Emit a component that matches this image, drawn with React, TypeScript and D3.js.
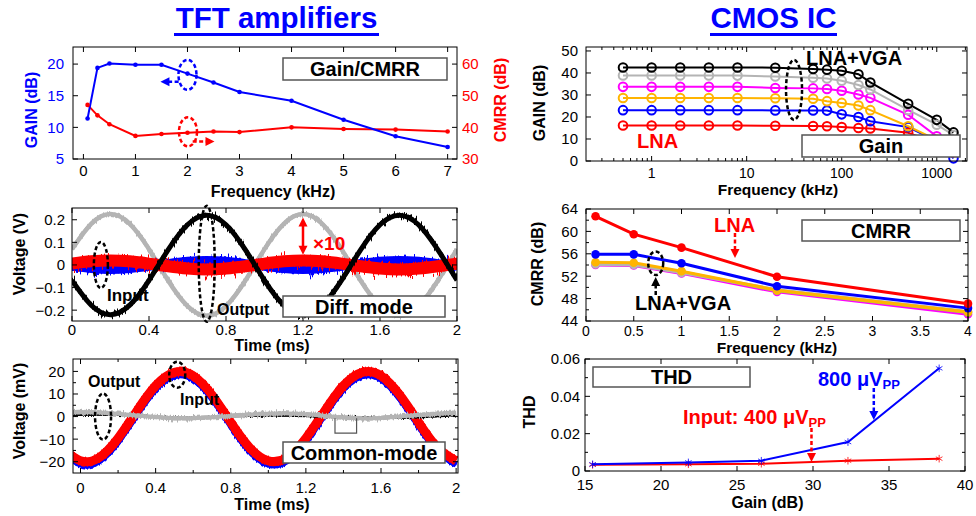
import React from 'react';
import * as d3 from 'd3';

const W = 976;
const H = 516;
const FONT = '"Liberation Sans", Arial, Helvetica, sans-serif';
const BLUE = '#0000ff';
const RED = '#ff0000';
const MAGENTA = '#ff00ff';
const ORANGE = '#ffb400';
const GRAY = '#b4b4b4';
const GREEN = '#a8d040';

// ---- TFT amplifier: gain and CMRR vs frequency ----
const tftFreq = [0.08, 0.27, 0.5, 1, 1.5, 2, 2.5, 3, 4, 5, 6, 7];
const tftGain = [11.4, 19.4, 20.1, 19.9, 19.9, 18.5, 17.1, 15.6, 14.2, 11.2, 8.6, 6.9];
const tftCmrr = [47.1, 43.8, 41.0, 37.3, 37.9, 38.3, 38.7, 38.5, 40.0, 39.5, 39.3, 38.7];

// ---- TFT: differential mode waveforms (V) ----
const diffTime = [0, 0.1, 0.2, 0.3, 0.4, 0.5, 0.6, 0.7, 0.8, 0.9, 1, 1.1, 1.2, 1.3, 1.4, 1.5, 1.6, 1.7, 1.8, 1.9, 2];
const diffOutP = [-0.068, -0.178, -0.22, -0.178, -0.068, 0.068, 0.178, 0.22, 0.178, 0.068, -0.068, -0.178, -0.22, -0.178, -0.068, 0.068, 0.178, 0.22, 0.178, 0.068, -0.068];
const diffOutN = [0.07, 0.182, 0.225, 0.182, 0.07, -0.07, -0.182, -0.225, -0.182, -0.07, 0.07, 0.182, 0.225, 0.182, 0.07, -0.07, -0.182, -0.225, -0.182, -0.07, 0.07];
const diffInP = [-0.006, -0.016, -0.02, -0.016, -0.006, 0.006, 0.016, 0.02, 0.016, 0.006, -0.006, -0.016, -0.02, -0.016, -0.006, 0.006, 0.016, 0.02, 0.016, 0.006, -0.006];
const diffInN = [0.006, 0.016, 0.02, 0.016, 0.006, -0.006, -0.016, -0.02, -0.016, -0.006, 0.006, 0.016, 0.02, 0.016, 0.006, -0.006, -0.016, -0.02, -0.016, -0.006, 0.006];

// ---- TFT: common mode waveforms (mV) ----
const cmTime = [-0.1, 0, 0.1, 0.2, 0.3, 0.4, 0.5, 0.6, 0.7, 0.8, 0.9, 1, 1.1, 1.2, 1.3, 1.4, 1.5, 1.6, 1.7, 1.8, 1.9, 2];
const cmInA = [-13.7, -19.6, -18.1, -9.6, 2.5, 13.7, 19.6, 18.1, 9.6, -2.5, -13.7, -19.6, -18.1, -9.6, 2.5, 13.7, 19.6, 18.1, 9.6, -2.5, -13.7, -19.6];
const cmInB = [-15.4, -21.3, -19.8, -11.3, 0.8, 12, 17.9, 16.4, 7.9, -4.2, -15.4, -21.3, -19.8, -11.3, 0.8, 12, 17.9, 16.4, 7.9, -4.2, -15.4, -21.3];
const cmOutA = [1.9, 2.0, 1.8, 1.2, 0.5, -0.2, -0.7, -0.7, -0.3, 0.3, 0.9, 1.3, 1.4, 1.0, 0.3, -0.4, -0.8, -0.6, 0.0, 0.7, 1.3, 1.7];
const cmOutB = [0.5, 0.6, 0.7, 0.6, 0.3, 0.0, -0.3, -0.4, -0.3, 0.0, 0.2, 0.3, 0.3, 0.1, -0.1, 0.0, -0.2, -0.5, -0.7, -0.5, 0.0, 0.4];

// ---- CMOS IC: gain vs frequency (kHz) ----
const cmosFreq = [0.5, 1, 2, 4, 8, 20, 50, 70, 100, 150, 200, 500, 1000, 1500];
const gainLna = [16.1, 16.1, 16.1, 16.1, 16.1, 16.0, 15.9, 15.8, 15.4, 15.0, 14.8, 12.8, 8.0, 4.0];
const gainBlue = [23.1, 23.1, 23.1, 23.1, 23.1, 23.0, 23.0, 22.9, 21.2, 20.0, 18.1, 15.4, 9.0, 1.2];
const gainOrange = [28.6, 28.6, 28.6, 28.6, 28.6, 28.5, 28.3, 27.2, 26.4, 25.2, 23.1, 15.8, 9.6, 5.0];
const gainMagenta = [33.7, 33.7, 33.7, 33.7, 33.7, 33.2, 33.0, 32.7, 31.9, 30.2, 28.7, 21.0, 11.2, 7.0];
const gainGray = [38.9, 38.9, 38.9, 38.9, 38.8, 38.4, 37.8, 37.5, 36.5, 34.5, 32.5, 23.2, 16.5, 11.8];
const gainBlack = [42.5, 42.5, 42.5, 42.5, 42.5, 42.4, 41.8, 41.5, 41.0, 39.4, 35.7, 26.0, 18.7, 13.0];

// ---- CMOS IC: CMRR vs frequency (kHz) ----
const cmrrFreq = [0.1, 0.5, 1, 2, 4];
const cmrrLna = [62.7, 59.5, 57.1, 51.9, 47.1];
const cmrrBlue = [55.9, 55.9, 54.3, 50.2, 46.3];
const cmrrOrange = [54.5, 54.4, 52.9, 49.5, 45.6];
const cmrrGreen = [54.3, 54.2, 52.8, 49.4, 45.5];
const cmrrGray = [54.1, 54.0, 52.6, 49.6, 45.7];
const cmrrMagenta = [54.0, 53.9, 52.5, 49.2, 45.2];

// ---- CMOS IC: THD vs gain ----
const thdGain = [15.5, 21.8, 26.6, 32.3, 38.3];
const thd400 = [0.0033, 0.0036, 0.0039, 0.0055, 0.0066];
const thd800 = [0.0036, 0.0046, 0.0055, 0.0155, 0.055];

type Box = { l: number; r: number; t: number; b: number };
const P1: Box = { l: 73, r: 457, t: 47, b: 159 };
const P2: Box = { l: 72, r: 457, t: 208, b: 321 };
const P3: Box = { l: 73, r: 458, t: 359, b: 473 };
const P4: Box = { l: 586, r: 967, t: 47, b: 161 };
const P5: Box = { l: 586, r: 968, t: 209, b: 321 };
const P6: Box = { l: 585, r: 965, t: 359, b: 471 };

const minus = (v: number) => (v < 0 ? '\u2212' : '') + String(Math.abs(v));

function Axes(props: any) {
  const { box, x, y, xt, yt, xm = [], ym = [], xf = String, yf = String, xdy, ydx = 8, mirrorY = true, yColor = '#000', fs = 15, xfs } = props;
  const L = 5, m = 3;
  return (
    <g>
      <rect x={box.l} y={box.t} width={box.r - box.l} height={box.b - box.t} fill="none" stroke="#000" strokeWidth={1} />
      {xm.map((v: number, i: number) => (
        <g key={'xm' + i}>
          <line x1={x(v)} x2={x(v)} y1={box.b} y2={box.b - m} stroke="#000" />
          <line x1={x(v)} x2={x(v)} y1={box.t} y2={box.t + m} stroke="#000" />
        </g>
      ))}
      {ym.map((v: number, i: number) => (
        <g key={'ym' + i}>
          <line x1={box.l} x2={box.l + m} y1={y(v)} y2={y(v)} stroke="#000" />
          {mirrorY && <line x1={box.r} x2={box.r - m} y1={y(v)} y2={y(v)} stroke="#000" />}
        </g>
      ))}
      {xt.map((v: number, i: number) => (
        <g key={'xt' + i}>
          <line x1={x(v)} x2={x(v)} y1={box.b} y2={box.b - L} stroke="#000" />
          <line x1={x(v)} x2={x(v)} y1={box.t} y2={box.t + L} stroke="#000" />
          <text x={x(v)} y={box.b + xdy} textAnchor="middle" fontSize={xfs || fs}>{xf(v)}</text>
        </g>
      ))}
      {yt.map((v: number, i: number) => (
        <g key={'yt' + i}>
          <line x1={box.l} x2={box.l + L} y1={y(v)} y2={y(v)} stroke="#000" />
          {mirrorY && <line x1={box.r} x2={box.r - L} y1={y(v)} y2={y(v)} stroke="#000" />}
          <text x={box.l - ydx} y={y(v)} dy="0.36em" textAnchor="end" fontSize={fs} fill={yColor}>{yf(v)}</text>
        </g>
      ))}
    </g>
  );
}

function YTitle({ x, y, text, color = '#000' }: any) {
  return (
    <text transform={`translate(${x},${y}) rotate(-90)`} textAnchor="middle" fontSize={16} fontWeight="bold" fill={color}>{text}</text>
  );
}

function XTitle({ x, y, text, fs = 16 }: any) {
  return <text x={x} y={y} textAnchor="middle" fontSize={fs} fontWeight="bold">{text}</text>;
}

function TagBox({ l, t, r, b, text }: any) {
  return (
    <g>
      <rect x={l} y={t} width={r - l} height={b - t} fill="#fff" stroke="#555" strokeWidth={1.5} />
      <text x={(l + r) / 2} y={(t + b) / 2} dy="0.36em" textAnchor="middle" fontSize={20} fontWeight="bold">{text}</text>
    </g>
  );
}

function Ring({ cx, cy, rx, ry, color = '#000' }: any) {
  return <ellipse cx={cx} cy={cy} rx={rx} ry={ry} fill="none" stroke={color} strokeWidth={2.5} strokeDasharray="4 2.5" />;
}

function Arrow({ x1, y1, x2, y2, color, dashed = false, both = false }: any) {
  const a = Math.atan2(y2 - y1, x2 - x1);
  const hl = 9, hw = 4.5;
  const head = (x: number, y: number, ang: number) => {
    const bx = x - hl * Math.cos(ang), by = y - hl * Math.sin(ang);
    const px = -Math.sin(ang) * hw, py = Math.cos(ang) * hw;
    return `M${x},${y}L${bx + px},${by + py}L${bx - px},${by - py}Z`;
  };
  const sx = both ? x1 + hl * 0.8 * Math.cos(a) : x1;
  const sy = both ? y1 + hl * 0.8 * Math.sin(a) : y1;
  return (
    <g>
      <line x1={sx} y1={sy} x2={x2 - hl * 0.8 * Math.cos(a)} y2={y2 - hl * 0.8 * Math.sin(a)} stroke={color} strokeWidth={2.5} strokeDasharray={dashed ? '4 2.5' : undefined} />
      <path d={head(x2, y2, a)} fill={color} />
      {both && <path d={head(x1, y1, a + Math.PI)} fill={color} />}
    </g>
  );
}

function Jitter({ id, scale, fx = 0.9, seed = 1 }: any) {
  return (
    <filter id={id} filterUnits="userSpaceOnUse" x={0} y={0} width={W} height={H} colorInterpolationFilters="sRGB">
      <feTurbulence type="fractalNoise" baseFrequency={`${fx} 0.02`} numOctaves={2} seed={seed} result="n" />
      <feColorMatrix in="n" type="matrix" values="0 0 0 0 0.5  0 1 0 0 0  0 0 0 0 0  0 0 0 0 1" result="m" />
      <feDisplacementMap in="SourceGraphic" in2="m" scale={scale} xChannelSelector="R" yChannelSelector="G" />
    </filter>
  );
}

function Clip({ id, box }: any) {
  return (
    <clipPath id={id}>
      <rect x={box.l} y={box.t} width={box.r - box.l} height={box.b - box.t} />
    </clipPath>
  );
}

const lineOf = (xs: number[], ys: number[], sx: any, sy: any, curve: any = d3.curveLinear) =>
  d3.line<number>().x((_, i) => sx(xs[i])).y(d => sy(d)).curve(curve)(ys) || '';

// noisy trace: solid core + jittered copies
function Noisy({ d, color, w, core, filter, filter2 }: any) {
  return (
    <g>
      <path d={d} fill="none" stroke={color} strokeWidth={core} />
      <path d={d} fill="none" stroke={color} strokeWidth={w} filter={`url(#${filter})`} />
      {filter2 && <path d={d} fill="none" stroke={color} strokeWidth={w} filter={`url(#${filter2})`} />}
    </g>
  );
}

export default function App() {
  // scales
  const x1 = d3.scaleLinear().domain([-0.2, 7.18]).range([P1.l, P1.r]);
  const yG1 = d3.scaleLinear().domain([5, 22.7]).range([P1.b, P1.t]);
  const yC1 = d3.scaleLinear().domain([30, 65.4]).range([P1.b, P1.t]);

  const x2 = d3.scaleLinear().domain([0, 2]).range([P2.l, P2.r]);
  const y2 = d3.scaleLinear().domain([-0.248, 0.252]).range([P2.b, P2.t]);

  const x3 = d3.scaleLinear().domain([-0.04, 2.01]).range([P3.l, P3.r]);
  const y3 = d3.scaleLinear().domain([-25, 25.5]).range([P3.b, P3.t]);

  const x4 = d3.scaleLog().domain([0.204, 2080]).range([P4.l, P4.r]);
  const y4 = d3.scaleLinear().domain([0, 51.8]).range([P4.b, P4.t]);

  const x5 = d3.scaleLinear().domain([0, 4]).range([P5.l, P5.r]);
  const y5 = d3.scaleLinear().domain([44, 64]).range([P5.b, P5.t]);

  const x6 = d3.scaleLinear().domain([15, 40]).range([P6.l, P6.r]);
  const y6 = d3.scaleLinear().domain([0, 0.06]).range([P6.b, P6.t]);

  const smooth = d3.curveNatural;

  const gainSeries = [
    { v: gainLna, c: RED },
    { v: gainBlue, c: BLUE },
    { v: gainOrange, c: ORANGE },
    { v: gainMagenta, c: MAGENTA },
    { v: gainGray, c: GRAY },
    { v: gainBlack, c: '#000' },
  ];
  const cmrrSeries = [
    { v: cmrrMagenta, c: MAGENTA },
    { v: cmrrGreen, c: GREEN },
    { v: cmrrGray, c: GRAY },
    { v: cmrrOrange, c: ORANGE },
    { v: cmrrBlue, c: BLUE },
    { v: cmrrLna, c: RED },
  ];

  const logMinor = x4.ticks().filter(v => ![1, 10, 100, 1000].includes(v));
  const star = d3.symbol().type(d3.symbolAsterisk).size(40)() || '';

  return (
    <svg width={W} height={H} viewBox={`0 0 ${W} ${H}`} style={{ position: 'fixed', left: 0, top: 0, fontFamily: FONT, background: '#fff' }}>
      <defs>
        <Clip id="c1" box={P1} />
        <Clip id="c2" box={P2} />
        <Clip id="c3" box={P3} />
        <Clip id="c4" box={P4} />
        <Jitter id="jRed" scale={32} seed={3} fx={0.7} />
        <Jitter id="jRed2" scale={24} seed={17} fx={0.5} />
        <Jitter id="jBlue" scale={24} seed={7} fx={0.7} />
        <Jitter id="jBlue2" scale={18} seed={21} fx={0.5} />
        <Jitter id="jBlack" scale={14} seed={11} />
        <Jitter id="jGray" scale={7} seed={5} />
        <Jitter id="jCm" scale={7} seed={9} />
        <Jitter id="jThin" scale={3} seed={13} />
      </defs>
      <rect width={W} height={H} fill="#fff" />

      {/* titles */}
      <text x={276.5} y={28} textAnchor="middle" fontSize={29.5} fontWeight="bold" fill={BLUE}>TFT amplifiers</text>
      <line x1={174} x2={379} y1={34.5} y2={34.5} stroke={BLUE} strokeWidth={3} />
      <text x={773.5} y={28} textAnchor="middle" fontSize={29.5} fontWeight="bold" fill={BLUE}>CMOS IC</text>
      <line x1={710} x2={837} y1={34.5} y2={34.5} stroke={BLUE} strokeWidth={3} />

      {/* ---------- panel 1: TFT gain / CMRR ---------- */}
      <g clipPath="url(#c1)">
        <path d={lineOf(tftFreq, tftCmrr, x1, yC1)} fill="none" stroke={RED} strokeWidth={2} />
        <path d={lineOf(tftFreq, tftGain, x1, yG1)} fill="none" stroke={BLUE} strokeWidth={2} />
      </g>
      {tftFreq.map((f, i) => <circle key={'c1r' + i} cx={x1(f)} cy={yC1(tftCmrr[i])} r={2.3} fill={RED} />)}
      {tftFreq.map((f, i) => <circle key={'c1b' + i} cx={x1(f)} cy={yG1(tftGain[i])} r={2.3} fill={BLUE} />)}
      <Axes box={P1} x={x1} y={yG1} xt={[0, 1, 2, 3, 4, 5, 6, 7]} yt={[5, 10, 15, 20]} xdy={17} ydx={9} mirrorY={false} yColor={BLUE} />
      {[30, 40, 50, 60].map(v => (
        <g key={'r1' + v}>
          <line x1={P1.r} x2={P1.r - 5} y1={yC1(v)} y2={yC1(v)} stroke="#000" />
          <text x={P1.r + 5} y={yC1(v)} dy="0.36em" fontSize={15} fill={RED}>{v}</text>
        </g>
      ))}
      <YTitle x={37} y={110} text="GAIN (dB)" color={BLUE} />
      <YTitle x={506} y={100} text="CMRR (dB)" color={RED} />
      <XTitle x={273} y={197} text="Frequency (kHz)" />
      <TagBox l={283} t={58} r={447} b={80} text="Gain/CMRR" />
      <Ring cx={x1(2)} cy={yG1(18.3)} rx={9} ry={15} color={BLUE} />
      <Arrow x1={x1(1.83)} y1={yG1(17.2)} x2={x1(1.48)} y2={yG1(17.2)} color={BLUE} dashed />
      <Ring cx={x1(2.01)} cy={yC1(38.6)} rx={9} ry={14.5} color={RED} />
      <Arrow x1={x1(2.1)} y1={yC1(35.5)} x2={x1(2.52)} y2={yC1(35.5)} color={RED} dashed />

      {/* ---------- panel 2: differential mode ---------- */}
      <g clipPath="url(#c2)">
        <Noisy d={lineOf(diffTime, diffOutN, x2, y2, smooth)} color={GRAY} w={4} core={4.5} filter="jGray" />
        <Noisy d={lineOf(diffTime, diffInP, x2, y2, smooth)} color={BLUE} w={4} core={9} filter="jBlue" filter2="jBlue2" />
        <Noisy d={lineOf(diffTime, diffInN, x2, y2, smooth)} color={RED} w={4} core={12} filter="jRed" filter2="jRed2" />
        <Noisy d={lineOf(diffTime, diffOutP, x2, y2, smooth)} color="#000" w={3.5} core={5} filter="jBlack" />
      </g>
      <Axes box={P2} x={x2} y={y2} xt={[0, 0.4, 0.8, 1.2, 1.6, 2]} yt={[-0.2, -0.1, 0, 0.1, 0.2]} xdy={14} ydx={7}
        yf={(v: number) => minus(v)} />
      <YTitle x={24.5} y={254} text="Voltage (V)" />
      <XTitle x={272} y={351} text="Time (ms)" />
      <Ring cx={x2(0.15)} cy={y2(0)} rx={7} ry={23} />
      <Ring cx={x2(0.7)} cy={y2(0.005)} rx={8} ry={58} />
      <text x={107} y={301} fontSize={17} fontWeight="bold">Input</text>
      <text x={217} y={315} fontSize={16} fontWeight="bold">Output</text>
      <Arrow x1={x2(1.2)} y1={y2(0.21)} x2={x2(1.2)} y2={y2(0.045)} color={RED} both />
      <text x={313} y={250} fontSize={19} fontWeight="bold" fill={RED}>×10</text>
      <TagBox l={283} t={296} r={445} b={317} text="Diff. mode" />

      {/* ---------- panel 3: common mode ---------- */}
      <g clipPath="url(#c3)">
        <Noisy d={lineOf(cmTime, cmInB, x3, y3, smooth)} color={BLUE} w={6} core={6} filter="jCm" />
        <Noisy d={lineOf(cmTime, cmInA, x3, y3, smooth)} color={RED} w={8} core={9} filter="jCm" />
        <Noisy d={lineOf(cmTime, cmOutB, x3, y3, smooth)} color="#000" w={1.6} core={1.2} filter="jThin" />
        <Noisy d={lineOf(cmTime, cmOutA, x3, y3, smooth)} color={GRAY} w={4.5} core={4} filter="jGray" />
      </g>
      <Axes box={P3} x={x3} y={y3} xt={[0, 0.4, 0.8, 1.2, 1.6, 2]} xm={[0.2, 0.6, 1.0, 1.4, 1.8]}
        yt={[-20, -10, 0, 10, 20]} ym={[-15, -5, 5, 15]} xdy={20} ydx={8} yf={(v: number) => minus(v)} />
      <YTitle x={24.5} y={411} text="Voltage (mV)" />
      <XTitle x={272} y={510} text="Time (ms)" />
      <Ring cx={x3(0.12)} cy={y3(0)} rx={8} ry={23} />
      <Ring cx={x3(0.515)} cy={y3(18.5)} rx={8} ry={13} />
      <text x={88} y={386.5} fontSize={16} fontWeight="bold">Output</text>
      <text x={180} y={405} fontSize={16} fontWeight="bold">Input</text>
      <path d={`M${x3(1.355)},${y3(-0.7)}V${y3(-7.3)}H${x3(1.47)}V${y3(-0.7)}`} fill="none" stroke="#555" strokeWidth={1.2} />
      <TagBox l={283} t={442} r={445} b={463} text="Common-mode" />

      {/* ---------- panel 4: CMOS gain ---------- */}
      <g clipPath="url(#c4)">
        {gainSeries.map((s, k) => (
          <path key={'g4' + k} d={lineOf(cmosFreq, s.v, x4, y4)} fill="none" stroke={s.c} strokeWidth={2} />
        ))}
      </g>
      {gainSeries.map((s, k) => (
        <g key={'m4' + k}>
          {cmosFreq.map((f, i) => (
            <circle key={i} cx={x4(f)} cy={y4(s.v[i])} r={4.3} fill="none" stroke={s.c} strokeWidth={2} />
          ))}
        </g>
      ))}
      <Axes box={P4} x={x4} y={y4} xt={[1, 10, 100, 1000]} xm={logMinor} yt={[0, 10, 20, 30, 40, 50]} xdy={17} xfs={14} ydx={8} />
      <YTitle x={544.5} y={103} text="GAIN (dB)" />
      <XTitle x={778} y={195} fs={15.5} text="Frequency (kHz)" />
      <Ring cx={x4(31.5)} cy={y4(32.3)} rx={8} ry={30} />
      <text x={806} y={65} fontSize={20} fontWeight="bold">LNA+VGA</text>
      <text x={637} y={148} fontSize={20} fontWeight="bold" fill={RED}>LNA</text>
      <TagBox l={802} t={135} r={960} b={157} text="Gain" />

      {/* ---------- panel 5: CMOS CMRR ---------- */}
      {cmrrSeries.map((s, k) => (
        <g key={'g5' + k}>
          <path d={lineOf(cmrrFreq, s.v, x5, y5)} fill="none" stroke={s.c} strokeWidth={3} />
          {cmrrFreq.map((f, i) => <circle key={i} cx={x5(f)} cy={y5(s.v[i])} r={4.3} fill={s.c} />)}
        </g>
      ))}
      <Axes box={P5} x={x5} y={y5} xt={[0, 0.5, 1, 1.5, 2, 2.5, 3, 3.5, 4]} yt={[44, 48, 52, 56, 60, 64]} ym={[46, 50, 54, 58, 62]} xdy={14.5} xfs={14} ydx={8} />
      <YTitle x={542.5} y={264} text="CMRR (dB)" />
      <XTitle x={777} y={353} fs={15.5} text="Frequency  (kHz)" />
      <text x={714} y={231.5} fontSize={20} fontWeight="bold" fill={RED}>LNA</text>
      <Arrow x1={x5(1.56)} y1={y5(59.7)} x2={x5(1.56)} y2={y5(55.25)} color={RED} dashed />
      <Ring cx={x5(0.73)} cy={y5(54.3)} rx={7.5} ry={11.7} />
      <Arrow x1={x5(0.73)} y1={y5(48.64)} x2={x5(0.73)} y2={y5(51.86)} color="#000" dashed />
      <text x={635} y={310} fontSize={20} fontWeight="bold">LNA+VGA</text>
      <TagBox l={802} t={220} r={960} b={241} text="CMRR" />

      {/* ---------- panel 6: THD ---------- */}
      <path d={lineOf(thdGain, thd400, x6, y6)} fill="none" stroke={RED} strokeWidth={2} />
      {thdGain.map((g, i) => <path key={'s6r' + i} d={star} transform={`translate(${x6(g)},${y6(thd400[i])})`} fill={RED} stroke={RED} strokeWidth={0.8} />)}
      <path d={lineOf(thdGain, thd800, x6, y6)} fill="none" stroke={BLUE} strokeWidth={2} />
      {thdGain.map((g, i) => <path key={'s6b' + i} d={star} transform={`translate(${x6(g)},${y6(thd800[i])})`} fill={BLUE} stroke={BLUE} strokeWidth={0.8} />)}
      <Axes box={P6} x={x6} y={y6} xt={[15, 20, 25, 30, 35, 40]} yt={[0, 0.02, 0.04, 0.06]} ym={[0.01, 0.03, 0.05]} xdy={19} ydx={5}
        yf={(v: number) => (v === 0 ? '0' : v.toFixed(2))} />
      <YTitle x={534.5} y={412} text="THD" />
      <XTitle x={767.5} y={508} text="Gain (dB)" />
      <TagBox l={593} t={367} r={750} b={387} text="THD" />
      <text x={818} y={386} fontSize={20} fontWeight="bold" fill={BLUE}>800 μV<tspan fontSize={13} dy={3}>PP</tspan></text>
      <Arrow x1={x6(34)} y1={y6(0.0445)} x2={x6(34)} y2={y6(0.0273)} color={BLUE} dashed />
      <text x={683} y={424} fontSize={20} fontWeight="bold" fill={RED}>Input: 400 μV<tspan fontSize={13} dy={3}>PP</tspan></text>
      <Arrow x1={x6(29.9)} y1={y6(0.023)} x2={x6(29.9)} y2={y6(0.0048)} color={RED} dashed />
    </svg>
  );
}
